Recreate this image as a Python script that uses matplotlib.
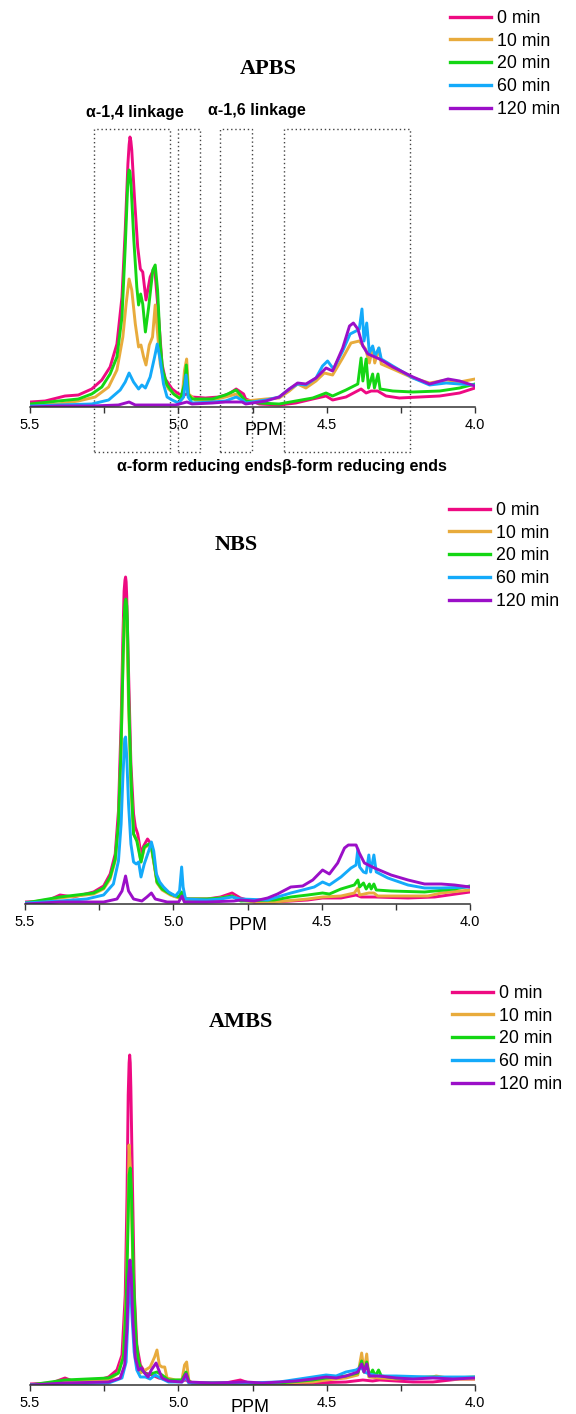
import matplotlib
matplotlib.use('Agg')
import matplotlib.pyplot as plt
from matplotlib.lines import Line2D
from matplotlib.patches import Rectangle

plt.rcParams['font.family'] = ['Liberation Sans', 'DejaVu Sans']

# ---- 1H NMR spectra (chemical shift in ppm, intensity in a.u.) ----
labels = ['0 min', '10 min', '20 min', '60 min', '120 min']
colors = ['#EE0A82', '#E8AB3C', '#14D614', '#14AAFA', '#9B0FC8']

# APBS
apbs_0_ppm = [5.500, 5.449, 5.382, 5.337, 5.292, 5.258, 5.230, 5.207, 5.190, 5.179, 5.170, 5.166, 5.163, 5.160,
              5.157, 5.148, 5.137, 5.128, 5.120, 5.109, 5.095, 5.080, 5.069, 5.055, 5.044, 5.021, 4.999, 4.982,
              4.971, 4.954, 4.909, 4.864, 4.830, 4.805, 4.780, 4.773, 4.727, 4.660, 4.604, 4.547, 4.502, 4.480,
              4.435, 4.384, 4.367, 4.350, 4.328, 4.300, 4.255, 4.187, 4.119, 4.052, 4.000]
apbs_0_int = [5, 6, 11, 12, 18, 27, 40, 63, 110, 177, 243, 262, 270, 266,
              257, 210, 160, 138, 135, 107, 130, 140, 100, 43, 28, 18, 13, 12,
              13, 10, 9, 10, 13, 18, 13, 8, 3, 2, 4, 8, 11, 7,
              10, 18, 14, 16, 16, 11, 9, 10, 11, 14, 19]

apbs_10_ppm = [5.500, 5.404, 5.337, 5.280, 5.235, 5.207, 5.187, 5.176, 5.166, 5.157, 5.145, 5.134, 5.126, 5.117,
               5.109, 5.098, 5.087, 5.078, 5.071, 5.061, 5.050, 5.033, 5.010, 4.988, 4.979, 4.972, 4.965, 4.943,
               4.886, 4.841, 4.805, 4.780, 4.773, 4.705, 4.660, 4.626, 4.598, 4.570, 4.536, 4.508, 4.480, 4.446,
               4.418, 4.390, 4.369, 4.356, 4.345, 4.338, 4.324, 4.316, 4.277, 4.209, 4.153, 4.097, 4.052, 4.000]
apbs_10_int = [2, 3, 6, 10, 20, 37, 70, 103, 128, 117, 83, 60, 62, 50,
               42, 62, 70, 102, 77, 43, 28, 18, 12, 8, 37, 48, 13, 7,
               7, 10, 13, 8, 6, 8, 9, 16, 23, 19, 26, 34, 32, 49,
               64, 66, 58, 44, 59, 44, 59, 43, 38, 29, 24, 27, 25, 28]

apbs_20_ppm = [5.500, 5.404, 5.337, 5.292, 5.258, 5.230, 5.207, 5.190, 5.179, 5.171, 5.168, 5.166, 5.163, 5.159,
               5.150, 5.140, 5.134, 5.127, 5.120, 5.111, 5.100, 5.086, 5.078, 5.070, 5.061, 5.053, 5.038, 5.016,
               4.993, 4.979, 4.973, 4.967, 4.954, 4.886, 4.841, 4.805, 4.773, 4.727, 4.660, 4.604, 4.547, 4.502,
               4.480, 4.435, 4.395, 4.384, 4.378, 4.367, 4.359, 4.345, 4.339, 4.327, 4.320, 4.277, 4.209, 4.119,
               4.052, 4.000]
apbs_20_int = [3, 6, 8, 13, 20, 33, 50, 90, 160, 220, 233, 237, 235, 220,
               167, 120, 102, 113, 103, 75, 100, 137, 142, 117, 63, 37, 22, 13,
               8, 23, 42, 13, 8, 8, 12, 17, 6, 4, 3, 6, 9, 14,
               11, 17, 23, 49, 26, 48, 19, 33, 19, 33, 18, 16, 15, 16,
               19, 23]

apbs_60_ppm = [5.500, 5.404, 5.292, 5.235, 5.196, 5.179, 5.166, 5.151, 5.134, 5.123, 5.111, 5.095, 5.080, 5.071,
               5.061, 5.050, 5.038, 5.021, 4.999, 4.982, 4.974, 4.967, 4.954, 4.886, 4.841, 4.805, 4.780, 4.773,
               4.705, 4.660, 4.626, 4.598, 4.570, 4.536, 4.514, 4.497, 4.477, 4.446, 4.421, 4.401, 4.390, 4.381,
               4.374, 4.365, 4.356, 4.345, 4.337, 4.324, 4.316, 4.277, 4.209, 4.153, 4.097, 4.052, 4.000]
apbs_60_int = [1, 2, 3, 7, 17, 25, 34, 25, 18, 22, 19, 30, 50, 63,
               47, 23, 10, 7, 4, 10, 32, 10, 4, 5, 6, 10, 6, 4,
               7, 10, 18, 23, 22, 29, 41, 46, 38, 56, 73, 76, 78, 98,
               66, 84, 54, 61, 51, 59, 48, 41, 29, 22, 24, 23, 22]

apbs_120_ppm = [5.500, 5.404, 5.292, 5.202, 5.166, 5.145, 5.066, 5.010, 4.971, 4.954, 4.886, 4.841, 4.785, 4.773,
                4.705, 4.660, 4.626, 4.598, 4.570, 4.536, 4.502, 4.480, 4.446, 4.423, 4.410, 4.395, 4.378, 4.361,
                4.345, 4.322, 4.277, 4.209, 4.153, 4.091, 4.052, 4.000]
apbs_120_int = [0, 1, 1, 2, 5, 2, 2, 2, 5, 3, 4, 5, 5, 3,
                6, 10, 18, 24, 23, 29, 39, 36, 59, 81, 84, 78, 61, 53,
                51, 48, 40, 30, 23, 28, 26, 21]

# NBS
nbs_0_ppm = [5.500, 5.427, 5.382, 5.337, 5.269, 5.235, 5.213, 5.196, 5.185, 5.176, 5.170, 5.166, 5.163, 5.161,
             5.159, 5.157, 5.151, 5.143, 5.134, 5.128, 5.120, 5.109, 5.100, 5.087, 5.075, 5.066, 5.055, 5.044,
             5.021, 4.999, 4.976, 4.971, 4.954, 4.886, 4.841, 4.802, 4.774, 4.727, 4.660, 4.547, 4.497, 4.435,
             4.384, 4.367, 4.322, 4.209, 4.119, 4.000]
nbs_0_int = [2, 3, 9, 7, 12, 18, 30, 50, 93, 183, 267, 313, 324, 327,
             322, 307, 233, 140, 90, 77, 70, 50, 58, 65, 60, 43, 23, 17,
             12, 8, 7, 8, 5, 5, 7, 11, 6, 2, 2, 4, 6, 6,
             9, 7, 7, 6, 7, 12]

nbs_10_ppm = [5.500, 5.382, 5.269, 5.235, 5.213, 5.196, 5.185, 5.176, 5.170, 5.166, 5.161, 5.157, 5.151, 5.143,
              5.134, 5.120, 5.109, 5.098, 5.083, 5.074, 5.064, 5.055, 5.038, 5.010, 4.982, 4.972, 4.965, 4.886,
              4.841, 4.802, 4.774, 4.727, 4.660, 4.547, 4.497, 4.435, 4.390, 4.378, 4.372, 4.341, 4.324, 4.311,
              4.209, 4.142, 4.097, 4.000]
nbs_10_int = [1, 6, 10, 15, 25, 43, 78, 155, 240, 285, 298, 280, 200, 118,
              70, 62, 42, 56, 59, 56, 38, 21, 14, 9, 6, 10, 5, 5,
              6, 8, 4, 2, 2, 5, 7, 8, 11, 16, 9, 11, 11, 8,
              8, 8, 11, 14]

nbs_20_ppm = [5.500, 5.382, 5.269, 5.235, 5.213, 5.196, 5.185, 5.176, 5.169, 5.164, 5.162, 5.160, 5.157, 5.155,
              5.150, 5.142, 5.134, 5.123, 5.109, 5.098, 5.083, 5.074, 5.064, 5.055, 5.038, 5.010, 4.982, 4.972,
              4.965, 4.886, 4.841, 4.802, 4.773, 4.660, 4.604, 4.547, 4.497, 4.474, 4.435, 4.390, 4.378, 4.372,
              4.359, 4.350, 4.339, 4.333, 4.324, 4.316, 4.266, 4.153, 4.052, 4.000]
nbs_20_int = [1, 7, 11, 16, 27, 45, 80, 160, 250, 297, 303, 305, 298, 283,
              200, 120, 70, 63, 42, 57, 60, 58, 40, 22, 15, 10, 7, 12,
              5, 5, 6, 8, 3, 4, 7, 9, 11, 10, 15, 19, 24, 17,
              21, 15, 20, 15, 20, 14, 13, 12, 15, 18]

nbs_60_ppm = [5.500, 5.382, 5.292, 5.235, 5.202, 5.185, 5.176, 5.170, 5.164, 5.161, 5.157, 5.151, 5.143, 5.134,
              5.125, 5.117, 5.109, 5.098, 5.083, 5.074, 5.066, 5.057, 5.046, 5.033, 5.016, 4.993, 4.979, 4.972,
              4.967, 4.959, 4.886, 4.841, 4.802, 4.773, 4.682, 4.649, 4.604, 4.564, 4.525, 4.497, 4.474, 4.435,
              4.401, 4.384, 4.378, 4.372, 4.359, 4.350, 4.341, 4.335, 4.324, 4.316, 4.277, 4.209, 4.153, 4.097,
              4.000]
nbs_60_int = [1, 3, 5, 9, 20, 43, 80, 127, 165, 167, 147, 100, 60, 42,
              40, 42, 27, 40, 53, 62, 53, 30, 22, 17, 12, 8, 13, 37,
              17, 5, 4, 5, 7, 5, 4, 7, 11, 14, 17, 22, 19, 27,
              36, 39, 55, 37, 32, 31, 49, 32, 49, 32, 26, 19, 16, 16,
              17]

nbs_120_ppm = [5.500, 5.382, 5.235, 5.190, 5.173, 5.161, 5.151, 5.134, 5.106, 5.089, 5.074, 5.061, 5.021, 4.982,
               4.971, 4.963, 4.886, 4.796, 4.773, 4.727, 4.682, 4.649, 4.604, 4.564, 4.530, 4.497, 4.474, 4.446,
               4.423, 4.410, 4.384, 4.373, 4.356, 4.322, 4.266, 4.209, 4.153, 4.097, 4.052, 4.000]
nbs_120_int = [0, 2, 2, 5, 13, 28, 13, 5, 3, 7, 11, 5, 2, 2,
               8, 2, 2, 3, 4, 3, 6, 10, 17, 18, 24, 34, 30, 41,
               56, 59, 59, 51, 41, 36, 29, 24, 20, 20, 19, 17]

# AMBS
ambs_0_ppm = [5.500, 5.427, 5.382, 5.348, 5.269, 5.235, 5.207, 5.190, 5.179, 5.173, 5.169, 5.166, 5.164, 5.162,
              5.160, 5.154, 5.148, 5.140, 5.128, 5.111, 5.089, 5.066, 5.033, 4.988, 4.976, 4.954, 4.841, 4.791,
              4.762, 4.727, 4.660, 4.547, 4.435, 4.378, 4.345, 4.322, 4.209, 4.142, 4.052, 4.000]
ambs_0_int = [1, 2, 7, 3, 5, 8, 15, 30, 90, 190, 290, 322, 330, 322,
              297, 190, 90, 40, 20, 12, 10, 7, 5, 4, 5, 2, 2, 5,
              2, 1, 1, 2, 3, 5, 4, 5, 3, 3, 6, 6]

ambs_10_ppm = [5.500, 5.382, 5.235, 5.202, 5.185, 5.176, 5.170, 5.166, 5.161, 5.155, 5.148, 5.139, 5.128, 5.111,
               5.095, 5.080, 5.072, 5.064, 5.055, 5.046, 5.038, 5.010, 4.988, 4.979, 4.972, 4.965, 4.954, 4.841,
               4.773, 4.660, 4.547, 4.502, 4.435, 4.395, 4.382, 4.374, 4.365, 4.358, 4.322, 4.266, 4.142, 4.131,
               4.074, 4.000]
ambs_10_int = [0, 3, 5, 12, 30, 90, 173, 240, 213, 140, 57, 23, 12, 15,
               18, 28, 35, 20, 18, 18, 7, 5, 5, 20, 23, 5, 2, 2,
               1, 2, 3, 5, 7, 10, 32, 13, 31, 8, 7, 6, 8, 9,
               6, 6]

ambs_20_ppm = [5.500, 5.382, 5.235, 5.202, 5.185, 5.176, 5.170, 5.166, 5.162, 5.158, 5.152, 5.143, 5.134, 5.123,
               5.106, 5.083, 5.072, 5.055, 5.033, 4.988, 4.974, 4.965, 4.954, 4.841, 4.773, 4.660, 4.547, 4.502,
               4.435, 4.395, 4.382, 4.374, 4.365, 4.356, 4.345, 4.336, 4.325, 4.316, 4.266, 4.142, 4.074, 4.000]
ambs_20_int = [0, 5, 7, 12, 28, 80, 153, 210, 217, 193, 113, 47, 23, 15,
               10, 12, 13, 10, 5, 5, 13, 4, 2, 2, 1, 2, 5, 7,
               9, 12, 24, 13, 23, 9, 15, 9, 15, 9, 7, 8, 7, 8]

ambs_60_ppm = [5.500, 5.235, 5.190, 5.176, 5.169, 5.164, 5.161, 5.157, 5.149, 5.140, 5.128, 5.111, 5.095, 5.078,
               5.061, 5.033, 4.988, 4.974, 4.965, 4.841, 4.773, 4.660, 4.547, 4.502, 4.468, 4.435, 4.401, 4.384,
               4.373, 4.356, 4.322, 4.266, 4.153, 4.074, 4.000]
ambs_60_int = [0, 2, 7, 23, 73, 113, 107, 73, 33, 15, 8, 8, 6, 10,
               7, 3, 3, 8, 2, 2, 2, 3, 8, 10, 9, 13, 15, 18,
               13, 11, 9, 9, 8, 8, 8]

ambs_120_ppm = [5.500, 5.382, 5.235, 5.196, 5.181, 5.173, 5.168, 5.163, 5.159, 5.153, 5.145, 5.134, 5.125, 5.114,
                5.102, 5.091, 5.075, 5.066, 5.055, 5.033, 4.988, 4.974, 4.965, 4.886, 4.773, 4.716, 4.660, 4.604,
                4.547, 4.502, 4.468, 4.435, 4.395, 4.382, 4.374, 4.365, 4.356, 4.322, 4.266, 4.209, 4.142, 4.074,
                4.000]
ambs_120_int = [0, 2, 3, 7, 20, 57, 107, 125, 110, 63, 27, 15, 17, 12,
                8, 15, 22, 15, 7, 4, 3, 11, 3, 2, 3, 2, 3, 4,
                6, 8, 7, 9, 13, 21, 13, 21, 9, 9, 7, 6, 7, 6,
                7]

# dotted regions on the APBS panel (ppm limits)
box_ranges = [(5.284, 5.027), (5.000, 4.926), (4.858, 4.750), (4.645, 4.220)]

W, H = 576, 1414
fig = plt.figure(figsize=(W / 100, H / 100), dpi=100)


def fx(px):
    return px / W


def fy(py):
    return 1 - py / H


def spectrum_axes(left, base, top, ymax):
    ax = fig.add_axes([fx(left), fy(base), fx(445), (base - top) / H])
    ax.set_xlim(5.5, 4.0)
    ax.set_ylim(0, ymax)
    for s in ['left', 'right', 'top']:
        ax.spines[s].set_visible(False)
    ax.spines['bottom'].set_color('#333333')
    ax.spines['bottom'].set_linewidth(1.1)
    ax.set_yticks([])
    ax.set_xticks([5.5, 5.0, 4.5, 4.0])
    ax.set_xticks([5.25, 4.75, 4.25], minor=True)
    ax.xaxis.set_major_formatter('{x:.1f}')
    ax.tick_params(axis='x', which='both', direction='out', length=4, width=1,
                   color='#333333', pad=4, labelsize=10.5)
    ax.patch.set_alpha(0)
    return ax


def draw(ax, series):
    for (ppm, inten), c in zip(series, colors):
        ax.plot(ppm, inten, color=c, lw=2.1, solid_joinstyle='round')


def legend(x, y):
    handles = [Line2D([], [], color=c, lw=2.4) for c in colors]
    fig.legend(handles, labels, loc='upper left', bbox_to_anchor=(fx(x), fy(y)),
               frameon=False, fontsize=12.8, handlelength=2.3, handletextpad=0.35,
               labelspacing=0.32, borderpad=0, borderaxespad=0)


title_font = dict(family='Liberation Serif', fontweight='bold', fontsize=16, ha='center', va='center')

# APBS
ax1 = spectrum_axes(30, 407, 127, 280)
draw(ax1, [(apbs_0_ppm, apbs_0_int), (apbs_10_ppm, apbs_10_int), (apbs_20_ppm, apbs_20_int),
           (apbs_60_ppm, apbs_60_int), (apbs_120_ppm, apbs_120_int)])
for x0, x1 in box_ranges:
    ax1.add_patch(Rectangle((x0, -45), x1 - x0, 323, fill=False, ls=(0, (1, 2)),
                            lw=1, edgecolor='#444444', clip_on=False))
fig.text(fx(268), fy(69), 'APBS', **title_font)
fig.text(fx(135), fy(112), 'α-1,4 linkage', fontsize=11.5, fontweight='bold', ha='center', va='center')
fig.text(fx(257), fy(110), 'α-1,6 linkage', fontsize=11.5, fontweight='bold', ha='center', va='center')
fig.text(fx(282), fy(467), 'α-form reducing endsβ-form reducing ends', fontsize=11.5,
         fontweight='bold', ha='center', va='center')
fig.text(fx(264), fy(431), 'PPM', fontsize=13, ha='center', va='center')
legend(450, 10)

# NBS
ax2 = spectrum_axes(25, 904, 569, 335)
draw(ax2, [(nbs_0_ppm, nbs_0_int), (nbs_10_ppm, nbs_10_int), (nbs_20_ppm, nbs_20_int),
           (nbs_60_ppm, nbs_60_int), (nbs_120_ppm, nbs_120_int)])
fig.text(fx(236), fy(545), 'NBS', **title_font)
fig.text(fx(248), fy(926), 'PPM', fontsize=13, ha='center', va='center')
legend(449, 502)

# AMBS
ax3 = spectrum_axes(30, 1385, 1045, 340)
draw(ax3, [(ambs_0_ppm, ambs_0_int), (ambs_10_ppm, ambs_10_int), (ambs_20_ppm, ambs_20_int),
           (ambs_60_ppm, ambs_60_int), (ambs_120_ppm, ambs_120_int)])
fig.text(fx(241), fy(1022), 'AMBS', **title_font)
fig.text(fx(250), fy(1408), 'PPM', fontsize=13, ha='center', va='center')
legend(452, 985)

fig.savefig('out.png', dpi=100)
